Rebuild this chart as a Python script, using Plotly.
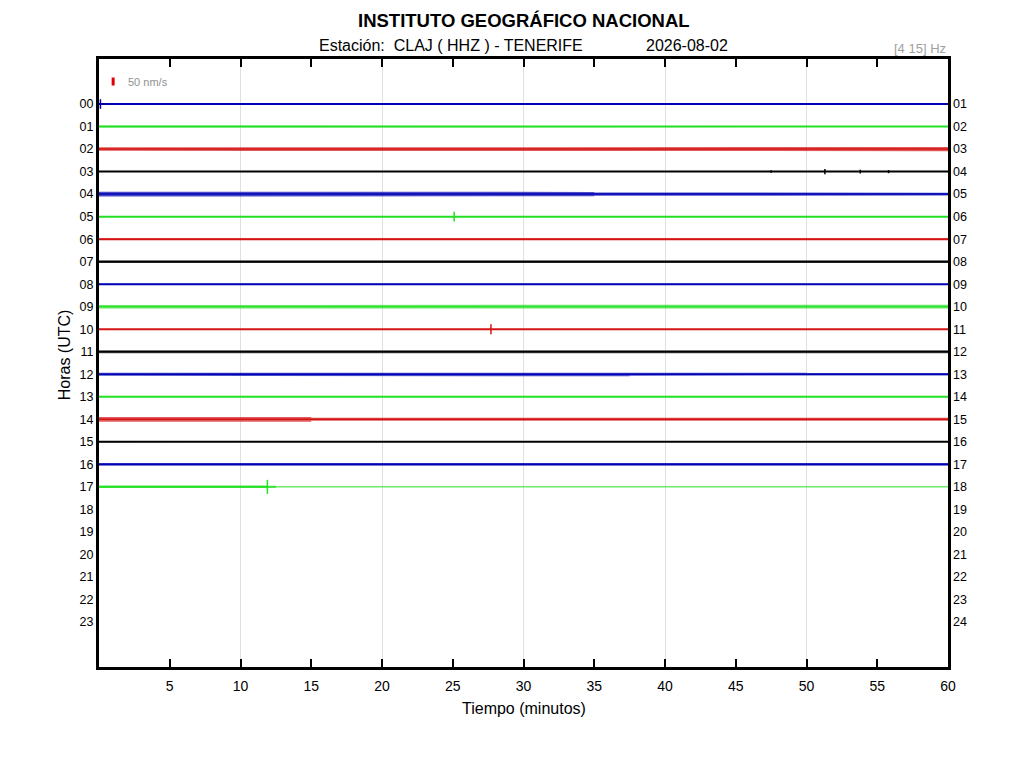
import plotly.graph_objects as go

# horas del dia (filas del helicorder) y colores por fila
horas = list(range(24))
etiquetas_izq = ["%02d" % h for h in horas]
etiquetas_der = ["%02d" % (h + 1) for h in horas]
colores = ["#0000b4", "#22e022", "#d41414", "#000000"]

# ruido: semiamplitud en nm/s por tramos de 2.5 minutos (24 tramos por hora)
tramos_min = [0, 2.5, 5, 7.5, 10, 12.5, 15, 17.5, 20, 22.5, 25, 27.5, 30,
              32.5, 35, 37.5, 40, 42.5, 45, 47.5, 50, 52.5, 55, 57.5, 60]
ruido = [
    [3, 2, 2, 2, 2, 2, 2, 3, 2, 2, 2, 2, 2, 2, 2, 2, 2, 2, 2, 2, 2, 3, 2, 2],          # 00
    [5, 6, 6, 3, 3, 3, 3, 3, 3, 4, 3, 3, 3, 3, 3, 3, 3, 3, 3, 3, 3, 3, 3, 3],          # 01
    [11, 10, 10, 11, 11, 10, 11, 12, 12, 12, 12, 14, 14, 13, 13, 12, 12, 11, 11, 12, 12, 12, 12, 13],  # 02
    [2, 2, 2, 2, 2, 2, 2, 2, 2, 2, 2, 2, 2, 2, 2, 2, 2, 2, 2, 3, 4, 4, 3, 2],          # 03
    [15, 15, 15, 14, 15, 15, 14, 15, 12, 11, 13, 12, 14, 14, 10, 8, 8, 8, 9, 9, 9, 10, 9, 9],  # 04
    [2, 2, 2, 2, 2, 2, 2, 2, 2, 2, 2, 2, 2, 2, 2, 2, 2, 2, 2, 2, 2, 2, 2, 2],          # 05
    [6, 6, 6, 6, 6, 6, 6, 6, 6, 6, 6, 6, 7, 6, 6, 6, 6, 6, 6, 6, 6, 6, 6, 6],          # 06
    [7, 7, 7, 7, 7, 7, 7, 7, 7, 7, 7, 7, 7, 7, 7, 7, 7, 7, 7, 7, 7, 7, 7, 7],          # 07
    [2, 2, 2, 2, 2, 2, 2, 2, 2, 2, 2, 2, 2, 2, 2, 2, 2, 2, 2, 2, 2, 2, 2, 2],          # 08
    [11, 12, 12, 12, 13, 12, 12, 12, 11, 11, 12, 12, 11, 12, 12, 11, 12, 12, 11, 11, 12, 12, 12, 12],  # 09
    [2, 2, 2, 2, 2, 2, 2, 2, 2, 2, 2, 2, 2, 2, 2, 2, 2, 2, 2, 2, 2, 2, 2, 2],          # 10
    [9, 9, 9, 10, 10, 10, 10, 10, 10, 10, 10, 9, 9, 9, 8, 8, 9, 9, 9, 10, 10, 10, 10, 10],  # 11
    [9, 9, 9, 9, 9, 9, 9, 9, 9, 9, 13, 13, 13, 13, 13, 9, 9, 9, 9, 9, 8, 8, 8, 8],     # 12
    [2, 2, 2, 2, 2, 2, 2, 2, 2, 2, 2, 2, 2, 2, 2, 2, 2, 2, 2, 2, 2, 2, 2, 2],          # 13
    [15, 15, 15, 15, 15, 15, 9, 9, 9, 9, 9, 10, 10, 9, 9, 9, 9, 9, 9, 9, 9, 9, 9, 9],  # 14
    [2, 2, 2, 2, 2, 2, 2, 2, 2, 2, 2, 2, 2, 2, 2, 2, 2, 2, 2, 2, 2, 2, 2, 2],          # 15
    [9, 9, 9, 10, 10, 10, 10, 10, 10, 10, 10, 10, 10, 10, 10, 10, 10, 10, 10, 10, 10, 10, 10, 9],  # 16
    [7, 7, 7, 7, 7, 0, 0, 0, 0, 0, 0, 0, 0, 0, 0, 0, 0, 0, 0, 0, 0, 0, 0, 0],          # 17
]
n_horas_datos = len(ruido)
minuto_actual = 11.9  # ultimo dato de la hora 17

# eventos (hora, minuto, semiamplitud nm/s)
eventos_hora = [0, 3, 3, 3, 3, 5, 10, 17]
eventos_min = [0.1, 47.5, 51.3, 53.8, 55.8, 25.1, 27.7, 11.9]
eventos_amp = [30, 8, 16, 12, 10, 30, 31, 44]

escala_nm = 50  # barra de escala
filas_por_nm = 0.354 / 50

# grosor de la linea base (px) por hora
grosor_base = [2, 2, 1.5, 2, 1.5, 2, 2, 2, 2, 1, 2, 1.5, 1.5, 2, 1.5, 2, 1.5, 2]

fig = go.Figure()

for h in range(n_horas_datos):
    col = colores[h % 4]
    # banda de ruido
    xs, ys_sup, ys_inf = [], [], []
    for i, a in enumerate(ruido[h]):
        xs += [tramos_min[i], tramos_min[i + 1]]
        ys_sup += [h - a * filas_por_nm] * 2
        ys_inf += [h + a * filas_por_nm] * 2
    fig.add_trace(go.Scatter(x=xs + xs[::-1], y=ys_sup + ys_inf[::-1], fill="toself",
                             fillcolor=col, opacity=0.7, mode="lines",
                             line=dict(width=0), hoverinfo="skip", showlegend=False))
    if h == n_horas_datos - 1:
        fig.add_trace(go.Scatter(x=[0, minuto_actual], y=[h, h], mode="lines",
                                 line=dict(color=col, width=grosor_base[h]), showlegend=False))
        fig.add_trace(go.Scatter(x=[minuto_actual, 60], y=[h, h], mode="lines",
                                 line=dict(color=col, width=1), showlegend=False))
    else:
        fig.add_trace(go.Scatter(x=[0, 60], y=[h, h], mode="lines",
                                 line=dict(color=col, width=grosor_base[h]), showlegend=False))

for h, m, a in zip(eventos_hora, eventos_min, eventos_amp):
    fig.add_trace(go.Scatter(x=[m, m], y=[h - a * filas_por_nm, h + a * filas_por_nm],
                             mode="lines", line=dict(color=colores[h % 4], width=1.5),
                             showlegend=False))

# barra de escala 50 nm/s
fig.add_trace(go.Scatter(x=[1, 1], y=[-1 - escala_nm * filas_por_nm / 2, -1 + escala_nm * filas_por_nm / 2],
                         mode="lines", line=dict(color="#e00000", width=3), showlegend=False))
fig.add_annotation(x=1.9, y=-1, text="50 nm/s", showarrow=False, xanchor="left", yanchor="middle",
                   font=dict(size=11, color="#909090"))

# eje derecho
fig.add_trace(go.Scatter(x=[0], y=[0], yaxis="y2", mode="markers",
                         marker=dict(opacity=0), hoverinfo="skip", showlegend=False))

fuente = "Liberation Sans, Arial, sans-serif"
fig.update_layout(
    width=1016, height=760,
    margin=dict(l=91, r=76, t=51, b=101),
    plot_bgcolor="white", paper_bgcolor="white",
    font=dict(family=fuente, color="black"),
    xaxis=dict(range=[0, 60], tickvals=list(range(5, 61, 5)), ticks="inside", ticklen=8,
               tickwidth=2, tickcolor="black", showgrid=False, zeroline=False,
               showline=True, linewidth=3, linecolor="black", mirror="ticks",
               tickfont=dict(size=14), ticklabelstandoff=4,
               minor=dict(tickvals=[10, 20, 30, 40, 50], showgrid=True, gridcolor="#e0e0e0",
                          gridwidth=1, ticks="")),
    yaxis=dict(range=[25, -2], tickvals=horas, ticktext=etiquetas_izq, ticks="",
               showgrid=False, zeroline=False, showline=True, linewidth=3,
               linecolor="black", mirror=True, tickfont=dict(size=12.5)),
    yaxis2=dict(range=[25, -2], overlaying="y", side="right", tickvals=horas,
                ticktext=etiquetas_der, ticks="", showgrid=False, zeroline=False,
                tickfont=dict(size=12.5), ticklabelstandoff=4),
)

def texto(x, y, t, size, **kw):
    fig.add_annotation(x=x, y=y, xref="paper", yref="paper", text=t, showarrow=False,
                       xanchor=kw.pop("xanchor", "center"), yanchor="middle",
                       font=dict(size=size, color=kw.pop("color", "black")), **kw)

texto(0.5, 1.064, "<b>INSTITUTO GEOGRÁFICO NACIONAL</b>", 18.5)
texto(0.415, 1.0214, "Estación:  CLAJ ( HHZ ) - TENERIFE", 16)
texto(0.6926, 1.0214, "2026-08-02", 16)
texto(1.0, 1.018, "[4 15] Hz", 13, xanchor="right", color="#a0a0a0")
texto(-0.041, 0.513, "Horas (UTC)", 16, textangle=-90)
texto(0.5, -0.069, "Tiempo (minutos)", 16)

fig.write_html("out.html")
